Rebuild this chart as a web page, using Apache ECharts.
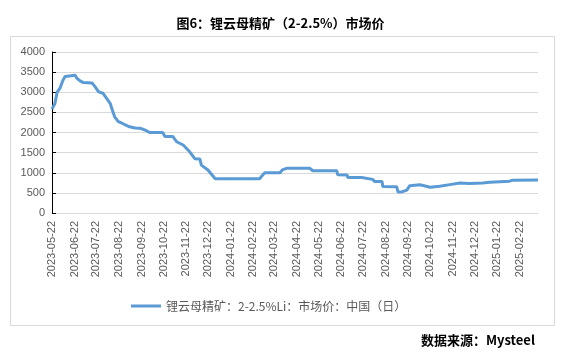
<!DOCTYPE html>
<html><head><meta charset="utf-8">
<script src="https://cdn.jsdelivr.net/npm/echarts@6/dist/echarts.min.js"></script>
<style>html,body{margin:0;padding:0;background:#fff}#c{width:561px;height:356px}</style>
</head><body><div id="c"></div>
<script>
const startDate = '2023-05-22';
const endDate = '2025-03-19';
const pointDates = ['2023-05-22','2023-05-26','2023-05-29','2023-06-02','2023-06-06','2023-06-09','2023-06-11','2023-06-23','2023-06-25','2023-06-29','2023-07-04','2023-07-16','2023-07-20','2023-07-25','2023-07-31','2023-08-05','2023-08-10','2023-08-12','2023-08-16','2023-08-21','2023-08-26','2023-09-04','2023-09-13','2023-09-20','2023-09-27','2023-10-03','2023-10-21','2023-10-24','2023-11-04','2023-11-09','2023-11-18','2023-11-27','2023-12-04','2023-12-11','2023-12-13','2023-12-22','2024-01-01','2024-03-02','2024-03-05','2024-03-09','2024-03-30','2024-04-02','2024-04-08','2024-05-10','2024-05-14','2024-06-16','2024-06-17','2024-06-30','2024-07-01','2024-07-20','2024-07-22','2024-08-04','2024-08-07','2024-08-17','2024-08-18','2024-09-06','2024-09-08','2024-09-14','2024-09-20','2024-09-24','2024-10-08','2024-10-22','2024-11-04','2024-11-18','2024-12-02','2024-12-15','2025-01-02','2025-01-12','2025-02-08','2025-02-12','2025-03-19'];
const pointValues = [2580,2720,3000,3100,3300,3390,3420,3420,3350,3290,3240,3230,3140,3010,2975,2850,2720,2600,2390,2270,2230,2150,2110,2105,2060,2000,2000,1900,1900,1770,1690,1520,1350,1340,1190,1070,850,850,920,1000,1000,1070,1110,1110,1050,1050,950,945,880,880,835,835,780,780,660,655,520,530,570,680,700,640,665,705,745,730,745,765,790,815,820];
const yTicks = [0,500,1000,1500,2000,2500,3000,3500,4000];
const seriesName = '锂云母精矿：2-2.5%Li：市场价：中国（日）';
const titleText = '图6：锂云母精矿（2-2.5%）市场价';
const sourceText = '数据来源：Mysteel';

function fmt(d){const m=d.getUTCMonth()+1, dd=d.getUTCDate();return d.getUTCFullYear()+'-'+(m<10?'0':'')+m+'-'+(dd<10?'0':'')+dd;}
const categories = [];
for (let t = Date.parse(startDate+'T00:00:00Z'); t <= Date.parse(endDate+'T00:00:00Z'); t += 86400000) categories.push(fmt(new Date(t)));
const seriesData = pointDates.map((d,i)=>[d, pointValues[i]]);

const chart = echarts.init(document.getElementById('c'), null, {renderer:'canvas'});
chart.setOption({
  animation:false,
  backgroundColor:'#fff',
  title:{text:titleText,left:'center',top:12,textStyle:{fontFamily:'Noto Sans CJK SC',fontWeight:'bold',fontSize:13,color:'#000'}},
  graphic:[
    {type:'rect',shape:{x:10.5,y:36.5,width:544,height:289},style:{fill:'none',stroke:'#d9d9d9',lineWidth:1},silent:true,z:-1},
    {type:'text',right:26,top:334,style:{text:sourceText,font:'bold 13px "Noto Sans CJK SC"',fill:'#000'}}
  ],
  legend:{show:true,left:126,top:295,itemWidth:30,itemHeight:3,icon:'rect',itemGap:4,
    textStyle:{fontFamily:'Noto Sans CJK SC',fontSize:12,color:'#595959'},data:[seriesName]},
  grid:{left:52,right:23,top:52,bottom:143},
  xAxis:{type:'category',data:categories,boundaryGap:false,
    axisLine:{show:true,lineStyle:{color:'#d9d9d9'}},axisTick:{show:false},
    axisLabel:{rotate:90,interval:(i,v)=>v.endsWith('-22'),fontFamily:'Liberation Sans',fontSize:11,color:'#595959',margin:8},
    splitLine:{show:false}},
  yAxis:{type:'value',min:yTicks[0],max:yTicks[yTicks.length-1],interval:yTicks[1]-yTicks[0],
    axisLine:{show:true,lineStyle:{color:'#000',width:1}},
    axisTick:{show:true,inside:true,length:4,lineStyle:{color:'#000'}},
    axisLabel:{formatter:v=>String(v),fontFamily:'Liberation Sans',fontSize:11,color:'#595959',margin:7},
    splitLine:{lineStyle:{color:'#d9d9d9',width:1}}},
  series:[{name:seriesName,type:'line',data:seriesData,showSymbol:false,symbol:'none',
    lineStyle:{color:'#5B9BD5',width:3},itemStyle:{color:'#5B9BD5'}}]
});
</script></body></html>
